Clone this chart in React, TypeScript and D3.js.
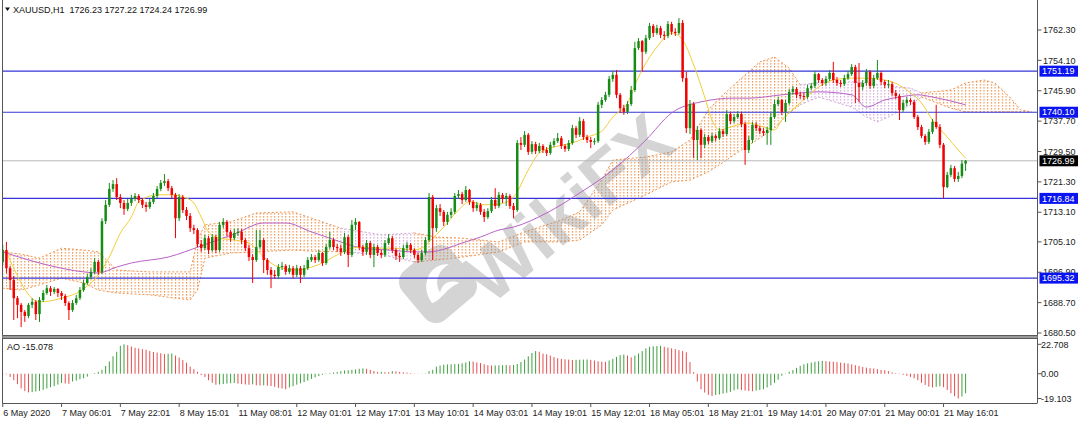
import React from 'react';
import * as d3 from 'd3';

// XAUUSD H1, 6 May 2020 14:00 .. 21 May 2020 22:00 (one value per bar)
const firstOpen = 1699.7;
const closes = [
  1702.9, 1698.0, 1694.8, 1689.9, 1688.1, 1686.2, 1685.1, 1688.1, 1688.9, 1685.6,
  1689.4, 1691.3, 1692.6, 1691.6, 1692.4, 1691.3, 1690.5, 1688.6, 1686.7, 1688.6,
  1689.9, 1692.1, 1694.0, 1695.6, 1697.0, 1699.7, 1697.0, 1710.7, 1715.1, 1719.4,
  1720.7, 1717.2, 1715.6, 1714.0, 1715.6, 1716.7, 1717.5, 1716.4, 1715.1, 1714.5,
  1715.9, 1717.5, 1719.4, 1721.0, 1721.5, 1719.6, 1717.8, 1711.5, 1717.2, 1713.7,
  1712.1, 1708.8, 1708.3, 1704.5, 1703.4, 1706.1, 1702.9, 1706.4, 1702.9, 1709.7,
  1710.5, 1707.8, 1706.1, 1707.5, 1707.8, 1705.6, 1703.4, 1701.0, 1700.2, 1703.7,
  1705.6, 1700.2, 1697.5, 1696.2, 1695.9, 1698.3, 1698.6, 1697.0, 1698.0, 1696.2,
  1698.0, 1696.2, 1698.0, 1700.2, 1701.0, 1700.2, 1702.1, 1699.4, 1703.7, 1705.6,
  1703.7, 1703.4, 1702.4, 1706.4, 1701.6, 1709.7, 1710.5, 1703.7, 1702.4, 1704.8,
  1701.6, 1703.7, 1702.1, 1701.6, 1704.8, 1706.1, 1702.9, 1701.3, 1701.0, 1703.4,
  1704.3, 1702.9, 1701.6, 1700.2, 1702.1, 1705.6, 1717.2, 1708.8, 1714.2, 1713.2,
  1710.5, 1712.4, 1713.2, 1717.5, 1718.0, 1716.4, 1719.1, 1715.9, 1714.2, 1715.1,
  1713.2, 1711.8, 1713.4, 1716.4, 1714.8, 1717.8, 1716.7, 1717.5, 1714.8, 1713.7,
  1731.8, 1731.3, 1734.0, 1729.4, 1731.5, 1729.6, 1731.0, 1729.9, 1729.1, 1731.3,
  1732.3, 1733.1, 1731.0, 1730.2, 1731.8, 1735.8, 1734.0, 1737.7, 1733.4, 1732.6,
  1732.1, 1732.3, 1742.1, 1743.4, 1744.8, 1749.1, 1750.2, 1744.8, 1741.2, 1740.2,
  1742.3, 1746.1, 1757.4, 1759.3, 1756.4, 1760.1, 1763.4, 1761.5, 1762.8, 1761.0,
  1760.7, 1763.9, 1761.8, 1761.5, 1764.2, 1749.3, 1735.8, 1742.3, 1732.6, 1735.3,
  1731.3, 1733.4, 1732.3, 1733.7, 1733.1, 1735.0, 1734.2, 1739.6, 1737.7, 1738.8,
  1739.6, 1736.9, 1729.9, 1732.6, 1736.7, 1735.8, 1735.0, 1734.5, 1735.3, 1738.8,
  1742.3, 1743.4, 1740.2, 1742.6, 1745.6, 1746.4, 1744.8, 1744.5, 1744.2, 1746.6,
  1747.2, 1750.4, 1748.8, 1748.0, 1749.1, 1750.7, 1748.8, 1748.0, 1747.7, 1749.3,
  1750.4, 1752.3, 1748.0, 1746.9, 1748.0, 1751.0, 1747.2, 1749.3, 1750.7, 1748.3,
  1747.5, 1747.7, 1745.3, 1744.5, 1740.7, 1742.6, 1743.4, 1742.9, 1738.8, 1736.1,
  1733.7, 1732.1, 1734.8, 1737.5, 1736.1, 1731.3, 1719.9, 1723.2, 1725.0, 1722.1,
  1722.9, 1726.23, 1726.99,
];
const highs = [
  1704.3, 1705.1, 1698.6, 1695.9, 1690.5, 1688.6, 1686.7, 1688.6, 1689.9, 1689.4,
  1690.2, 1692.1, 1693.5, 1693.2, 1692.9, 1692.6, 1691.8, 1691.0, 1689.1, 1689.4,
  1690.8, 1692.9, 1694.8, 1696.4, 1698.0, 1700.7, 1700.2, 1711.5, 1716.4, 1721.0,
  1721.8, 1722.3, 1718.0, 1716.4, 1716.7, 1717.8, 1718.3, 1718.0, 1716.9, 1715.9,
  1716.7, 1718.3, 1720.2, 1721.8, 1723.4, 1722.1, 1720.2, 1718.3, 1718.0, 1717.8,
  1714.5, 1712.9, 1709.7, 1708.8, 1705.6, 1707.0, 1706.7, 1707.2, 1707.0, 1710.5,
  1711.5, 1711.0, 1708.3, 1708.6, 1708.8, 1708.6, 1706.1, 1704.3, 1701.8, 1708.3,
  1708.3, 1706.1, 1700.7, 1698.3, 1697.5, 1699.1, 1699.7, 1699.1, 1698.9, 1698.6,
  1698.9, 1698.6, 1698.9, 1701.0, 1701.8, 1701.6, 1702.9, 1702.4, 1704.5, 1707.8,
  1706.1, 1704.5, 1704.3, 1707.5, 1707.0, 1711.0, 1711.5, 1710.7, 1704.3, 1705.6,
  1705.3, 1704.5, 1704.3, 1702.9, 1705.6, 1707.2, 1706.7, 1703.4, 1702.1, 1704.3,
  1705.1, 1704.8, 1703.4, 1702.1, 1702.9, 1706.4, 1718.3, 1717.8, 1715.1, 1715.3,
  1713.7, 1713.2, 1714.2, 1718.3, 1719.1, 1718.6, 1720.2, 1719.4, 1716.4, 1715.9,
  1715.6, 1714.0, 1714.2, 1717.2, 1719.6, 1718.6, 1718.3, 1718.3, 1718.0, 1715.6,
  1732.6, 1733.4, 1735.0, 1734.5, 1732.3, 1732.1, 1731.8, 1731.5, 1730.7, 1732.1,
  1733.1, 1734.5, 1733.7, 1731.5, 1732.6, 1736.7, 1736.4, 1738.8, 1738.3, 1734.0,
  1733.4, 1733.1, 1742.9, 1744.2, 1745.6, 1749.9, 1751.2, 1751.5, 1745.3, 1742.1,
  1743.1, 1747.2, 1759.1, 1760.1, 1759.6, 1761.0, 1764.2, 1763.9, 1763.7, 1763.4,
  1762.0, 1764.7, 1764.5, 1762.8, 1765.5, 1765.0, 1751.0, 1743.4, 1742.9, 1736.4,
  1735.8, 1734.2, 1734.0, 1734.5, 1734.2, 1735.8, 1735.6, 1740.7, 1740.2, 1739.6,
  1740.4, 1740.2, 1737.5, 1733.7, 1737.5, 1737.5, 1736.4, 1735.8, 1736.1, 1739.9,
  1743.4, 1744.2, 1743.7, 1743.4, 1746.4, 1747.2, 1746.9, 1745.6, 1745.3, 1747.5,
  1748.0, 1751.2, 1750.7, 1749.3, 1749.9, 1751.5, 1753.7, 1749.6, 1748.8, 1750.2,
  1751.2, 1753.1, 1752.9, 1753.4, 1748.8, 1751.8, 1751.5, 1750.2, 1754.2, 1751.2,
  1748.8, 1748.8, 1748.3, 1746.1, 1745.0, 1743.4, 1744.2, 1743.9, 1743.4, 1739.4,
  1736.7, 1734.2, 1735.6, 1738.3, 1742.1, 1736.9, 1731.8, 1724.0, 1725.9, 1725.6,
  1724.0, 1727.2, 1727.22,
];
const lows = [
  1698.9, 1696.7, 1692.1, 1684.0, 1684.5, 1682.1, 1683.5, 1684.5, 1687.2, 1684.0,
  1683.5, 1688.9, 1690.8, 1690.5, 1691.0, 1690.2, 1689.4, 1687.8, 1684.0, 1686.2,
  1688.1, 1689.4, 1691.6, 1693.5, 1695.1, 1696.4, 1696.2, 1696.4, 1709.9, 1714.5,
  1718.6, 1716.4, 1714.2, 1712.4, 1713.4, 1714.8, 1716.1, 1715.6, 1714.2, 1713.2,
  1714.0, 1715.3, 1716.9, 1718.8, 1720.2, 1718.8, 1716.7, 1706.1, 1710.7, 1712.9,
  1711.0, 1707.8, 1707.2, 1703.7, 1702.4, 1702.9, 1701.8, 1702.4, 1702.1, 1702.4,
  1708.8, 1706.7, 1705.1, 1705.6, 1706.7, 1704.5, 1702.6, 1699.9, 1694.0, 1699.7,
  1703.2, 1696.7, 1696.2, 1692.6, 1695.1, 1695.1, 1697.5, 1696.2, 1696.4, 1695.3,
  1695.6, 1694.0, 1695.6, 1697.5, 1699.7, 1699.4, 1699.7, 1698.6, 1698.9, 1703.2,
  1702.9, 1702.4, 1701.3, 1701.8, 1698.3, 1701.0, 1708.3, 1702.9, 1701.3, 1701.6,
  1700.7, 1698.3, 1701.3, 1700.7, 1701.0, 1704.3, 1702.1, 1700.2, 1699.7, 1700.5,
  1702.6, 1702.1, 1700.7, 1699.4, 1699.7, 1701.6, 1705.1, 1700.2, 1707.8, 1712.1,
  1709.4, 1709.7, 1711.5, 1712.6, 1716.7, 1715.3, 1715.9, 1715.1, 1713.2, 1713.4,
  1712.4, 1710.5, 1711.3, 1712.9, 1714.0, 1714.2, 1715.6, 1714.8, 1714.0, 1711.5,
  1713.2, 1729.9, 1730.7, 1728.6, 1728.8, 1728.8, 1729.1, 1729.1, 1728.3, 1728.6,
  1730.7, 1731.8, 1730.2, 1729.4, 1729.6, 1731.3, 1733.1, 1733.4, 1732.6, 1731.8,
  1730.4, 1731.3, 1731.8, 1741.2, 1742.9, 1744.2, 1748.3, 1743.9, 1739.9, 1739.4,
  1739.6, 1741.8, 1745.6, 1756.9, 1751.0, 1755.8, 1759.6, 1760.4, 1761.0, 1760.1,
  1759.6, 1760.1, 1761.0, 1760.7, 1761.0, 1748.3, 1734.5, 1734.2, 1727.7, 1727.2,
  1727.7, 1730.4, 1731.5, 1731.8, 1732.3, 1732.6, 1733.4, 1733.7, 1736.9, 1737.2,
  1738.3, 1736.1, 1725.9, 1729.1, 1731.8, 1735.0, 1734.2, 1733.7, 1731.3, 1731.3,
  1738.3, 1741.8, 1739.4, 1737.5, 1742.1, 1744.8, 1743.9, 1743.7, 1743.4, 1743.7,
  1746.1, 1746.6, 1748.0, 1747.2, 1747.2, 1748.5, 1748.0, 1747.2, 1746.9, 1747.2,
  1748.8, 1749.9, 1742.6, 1742.9, 1746.1, 1747.2, 1746.4, 1746.6, 1748.8, 1747.5,
  1746.6, 1746.6, 1744.5, 1743.7, 1738.0, 1740.2, 1741.8, 1742.1, 1738.3, 1735.3,
  1733.1, 1731.3, 1731.5, 1734.2, 1735.6, 1730.4, 1716.9, 1719.6, 1722.6, 1721.3,
  1721.3, 1722.3, 1724.24,
];

// Awesome Oscillator, one value per bar
const aoValues = [
  0.6, -0.4, -2.5, -5.0, -8.0, -11.4, -13.4, -14.4, -14.2, -13.7,
  -13.2, -12.4, -11.4, -10.4, -9.6, -8.4, -7.1, -7.5, -7.8, -6.0,
  -5.3, -4.3, -3.5, -2.2, -0.1, 0.5, 1.5, 3.0, 6.0, 9.5,
  13.5, 17.0, 21.5, 22.708, 22.0, 21.0, 20.0, 19.5, 19.0, 18.5,
  17.5, 16.8, 16.3, 15.8, 15.2, 15.4, 15.6, 14.0, 12.5, 10.5,
  8.5, 5.5, 3.5, 1.5, -1.0, -2.5, -5.0, -7.0, -8.5, -8.3,
  -8.0, -7.6, -7.3, -7.1, -7.6, -8.0, -8.3, -8.5, -8.2, -8.9,
  -9.1, -9.0, -9.2, -9.5, -10.1, -10.9, -11.4, -12.0, -10.6, -9.6,
  -8.4, -7.4, -6.4, -5.3, -4.0, -2.8, -1.8, -0.8, 0.2, 0.5,
  1.0, 1.3, 2.0, 2.5, 2.7, 3.0, 3.3, 3.8, 4.1, 3.8,
  3.0, 2.0, 1.3, 1.5, 1.2, 1.1, 2.0, 1.8, 1.4, 1.1,
  0.8, 0.5, 0.2, 0.1, 0.15, 0.3, 2.0, 3.0, 5.5, 6.3,
  7.0, 7.2, 7.3, 7.4, 7.6, 8.0, 8.8, 9.6, 9.4, 8.8,
  8.2, 7.3, 6.6, 6.3, 6.4, 6.5, 6.6, 6.7, 6.5, 6.8,
  7.5, 9.0, 11.0, 13.5, 16.0, 17.5, 17.0, 15.5, 15.0, 14.0,
  12.8, 12.0, 11.4, 11.1, 10.9, 10.6, 10.7, 10.8, 10.9, 11.0,
  10.7, 10.2, 9.6, 9.3, 9.2, 10.2, 11.5, 13.0, 14.3, 14.8,
  14.0, 12.6, 14.0, 15.6, 17.5, 19.5, 20.8, 21.2, 21.4, 21.5,
  20.8, 20.2, 19.6, 19.0, 18.2, 17.5, 16.5, 9.0, 1.2, -6.0,
  -12.0, -14.5, -16.3, -17.2, -16.4, -16.0, -15.3, -14.7, -14.0, -12.8,
  -12.0, -12.6, -13.0, -13.3, -13.5, -13.0, -12.6, -12.0, -10.6, -8.9,
  -7.0, -4.6, -1.5, -0.2, 1.5, 2.8, 4.5, 6.0, 7.3, 8.0,
  8.6, 9.2, 9.6, 9.9, 9.7, 9.4, 9.3, 9.0, 8.6, 8.3,
  7.9, 7.2, 6.6, 6.0, 5.3, 4.7, 4.3, 4.0, 3.6, 3.0,
  2.7, 2.0, 1.0, 0.4, -0.3, -0.8, -1.6, -2.5, -3.5, -5.0,
  -7.0, -8.6, -10.0, -10.6, -10.1, -9.7, -10.4, -12.5, -15.0, -17.3,
  -19.103, -17.6, -15.078,
];

// moving averages (bar index, price)
const fastMaBars = [1, 10, 16, 22, 26, 29, 32, 35, 37, 42, 46, 50, 52, 54, 56, 59, 63, 67, 71, 75, 80, 84, 87, 91, 95, 98, 103, 107, 111, 114, 116, 120, 124, 127, 131, 135, 139, 143, 146, 150, 155, 159, 163, 166, 170, 173, 178, 182, 185, 188, 191, 193, 195, 199, 203, 207, 210, 212, 217, 222, 226, 231, 235, 240, 242, 246, 250, 253, 257, 260, 262];
const fastMaValues = [1702.4, 1688.9, 1689.9, 1692.4, 1696.2, 1701.0, 1707.5, 1711.8, 1715.9, 1717.8, 1717.8, 1716.9, 1715.6, 1711.8, 1707.8, 1706.1, 1705.6, 1704.8, 1701.0, 1698.3, 1697.5, 1698.3, 1699.4, 1701.6, 1703.4, 1703.7, 1703.4, 1703.4, 1702.9, 1703.4, 1705.1, 1709.1, 1713.7, 1715.9, 1715.1, 1715.3, 1717.2, 1724.5, 1729.1, 1730.7, 1731.8, 1733.4, 1735.0, 1738.8, 1742.6, 1749.6, 1757.7, 1761.5, 1759.6, 1752.9, 1744.2, 1738.0, 1735.3, 1736.4, 1737.2, 1736.1, 1735.3, 1738.0, 1742.6, 1746.9, 1748.8, 1749.3, 1749.3, 1748.8, 1748.3, 1746.1, 1742.6, 1738.0, 1733.4, 1729.9, 1727.7];
const slowMaBars = [0, 12, 22, 26, 31, 35, 45, 54, 63, 71, 77, 84, 89, 98, 105, 112, 116, 121, 125, 130, 135, 139, 148, 157, 166, 175, 182, 190, 199, 203, 212, 222, 231, 235, 240, 244, 249, 253, 262];
const slowMaValues = [1702.4, 1698.9, 1697.0, 1696.7, 1698.3, 1699.4, 1701.0, 1704.0, 1707.2, 1710.2, 1710.2, 1707.8, 1706.1, 1703.4, 1702.9, 1702.4, 1702.4, 1703.4, 1704.8, 1706.4, 1708.3, 1709.1, 1712.9, 1718.3, 1724.5, 1732.6, 1739.9, 1742.9, 1743.9, 1743.9, 1744.8, 1745.6, 1744.8, 1741.5, 1743.4, 1744.2, 1744.8, 1744.2, 1742.1];

// Ichimoku cloud edges (bar index, upper, lower, up = sandy / dn = thistle)
const cloudBars = [0, 5, 10, 16, 22, 26, 31, 40, 51, 53, 55, 62, 69, 79, 84, 92, 103, 112, 118, 125, 135, 142, 152, 157, 163, 166, 175, 182, 187, 192, 195, 201, 206, 210, 214, 217, 222, 231, 235, 238, 241, 247, 250, 258, 262, 267, 270, 274, 277, 280];
const cloudUpper = [1702.4, 1701.8, 1700.7, 1703.4, 1702.9, 1702.4, 1697.5, 1697.0, 1697.0, 1705.6, 1709.7, 1710.5, 1712.9, 1713.2, 1711.5, 1708.8, 1707.0, 1707.5, 1706.4, 1706.1, 1705.1, 1707.8, 1711.0, 1713.2, 1721.8, 1727.2, 1728.0, 1729.4, 1732.6, 1740.7, 1743.9, 1749.3, 1753.7, 1755.0, 1752.0, 1747.5, 1748.0, 1748.3, 1748.0, 1747.5, 1747.2, 1746.6, 1745.3, 1746.1, 1748.0, 1748.8, 1748.0, 1744.2, 1740.7, 1740.2];
const cloudLower = [1692.6, 1692.1, 1693.5, 1695.3, 1694.0, 1692.1, 1691.3, 1690.8, 1689.4, 1692.1, 1700.7, 1702.1, 1702.4, 1702.9, 1702.6, 1702.4, 1701.6, 1699.7, 1700.2, 1701.0, 1702.4, 1705.1, 1705.1, 1705.6, 1709.7, 1713.7, 1717.8, 1721.3, 1721.8, 1724.0, 1725.9, 1729.9, 1733.1, 1735.8, 1739.9, 1742.1, 1744.2, 1741.5, 1738.8, 1737.5, 1738.8, 1742.1, 1744.2, 1741.2, 1740.2, 1740.2, 1740.2, 1740.2, 1740.2, 1740.2];
const cloudKind = ['up', 'up', 'up', 'up', 'up', 'up', 'up', 'up', 'up', 'up', 'up', 'up', 'up', 'up', 'up', 'dn', 'dn', 'up', 'up', 'up', 'up', 'up', 'up', 'up', 'up', 'up', 'up', 'up', 'up', 'up', 'up', 'up', 'up', 'up', 'up', 'dn', 'dn', 'dn', 'dn', 'dn', 'dn', 'dn', 'up', 'up', 'up', 'up', 'up', 'up', 'up', 'up'];

const priceTicks = [1762.3, 1754.1, 1745.9, 1737.7, 1729.5, 1721.3, 1713.1, 1705.1, 1696.9, 1688.7, 1680.5];
const levels = [1751.19, 1740.1, 1716.84, 1695.32];
const bidPrice = 1726.99;
const aoTicks = [22.708, 0, -19.103];
const timeLabels = ['6 May 2020', '7 May 06:01', '7 May 22:01', '8 May 15:01', '11 May 08:01', '12 May 01:01', '12 May 17:01', '13 May 10:01', '14 May 03:01', '14 May 19:01', '15 May 12:01', '18 May 05:01', '18 May 21:01', '19 May 14:01', '20 May 07:01', '21 May 00:01', '21 May 16:01'];
const labelEvery = 16;

const FONT = "'Liberation Sans', Arial, sans-serif";
const BULL = '#168c16';
const BEAR = '#f00000';
const SANDY = '#ee9450';
const THISTLE = '#cfa6d6';

export default function App() {
  const W = 1080;
  const H = 422;
  const plotL = 2.5;
  const plotR = 1037.5;
  const priceBottom = 335;
  const aoTop = 338.5;
  const aoBottom = 403;

  const x = d3.scaleLinear().domain([0, closes.length - 1]).range([2.75, 2.75 + 3.675 * (closes.length - 1)]);
  const y = d3.scaleLinear().domain([1680.5, 1762.3]).range([333, 30]);
  const yAo = d3.scaleLinear().domain([-19.103, 22.708]).range([398.5, 344.3]);

  const candles = closes.map((c, i) => {
    const o = i === 0 ? firstOpen : closes[i - 1];
    return { i, o, c, h: Math.max(highs[i], o, c), l: Math.min(lows[i], o, c) };
  });

  const fastLine = d3.line<number>().x((b) => x(b)).y((_, k) => y(fastMaValues[k])).curve(d3.curveMonotoneX)(fastMaBars) || '';
  const slowLine = d3.line<number>().x((b) => x(b)).y((_, k) => y(slowMaValues[k])).curve(d3.curveMonotoneX)(slowMaBars) || '';

  type CP = { b: number; up: number; lo: number; kind: string };
  const pts: CP[] = cloudBars.map((b, k) => ({ b, up: cloudUpper[k], lo: cloudLower[k], kind: cloudKind[k] }));
  const segs: { kind: string; pts: CP[] }[] = [];
  pts.forEach((p) => {
    const last = segs[segs.length - 1];
    if (!last || last.kind !== p.kind) {
      if (last) last.pts.push(p);
      segs.push({ kind: p.kind, pts: [p] });
    } else {
      last.pts.push(p);
    }
  });
  const area = d3.area<CP>().x((d) => x(d.b)).y0((d) => y(d.lo)).y1((d) => y(d.up));
  const upperEdge = d3.line<CP>().x((d) => x(d.b)).y((d) => y(d.up));
  const lowerEdge = d3.line<CP>().x((d) => x(d.b)).y((d) => y(d.lo));
  const cloudColor = (k: string) => (k === 'up' ? SANDY : THISTLE);

  return (
    <div style={{ position: 'absolute', left: 0, top: 0, width: W, height: H, background: '#fff' }}>
      <svg width={W} height={H} viewBox={`0 0 ${W} ${H}`} style={{ display: 'block', fontFamily: FONT }}>
        <defs>
          <pattern id="dotUp" patternUnits="userSpaceOnUse" width={3.675} height={3} x={2.25} y={0}>
            <rect x={0} y={0} width={1.1} height={1.6} fill={SANDY} />
          </pattern>
          <pattern id="dotDn" patternUnits="userSpaceOnUse" width={3.675} height={3} x={2.25} y={0}>
            <rect x={0} y={0} width={1.1} height={1.6} fill={THISTLE} />
          </pattern>
          <clipPath id="priceClip">
            <rect x={plotL} y={0} width={plotR - plotL} height={priceBottom} />
          </clipPath>
        </defs>
        <rect x={0} y={0} width={W} height={H} fill="#fff" />

        <g clipPath="url(#priceClip)">
          {/* Ichimoku cloud */}
          {segs.map((s, k) => (
            <g key={k}>
              <path d={area(s.pts) || ''} fill={s.kind === 'up' ? 'url(#dotUp)' : 'url(#dotDn)'} />
              <path d={upperEdge(s.pts) || ''} fill="none" stroke={cloudColor(s.kind)} strokeWidth={1} strokeDasharray="2 2" />
              <path d={lowerEdge(s.pts) || ''} fill="none" stroke={cloudColor(s.kind)} strokeWidth={1} strokeDasharray="2 2" />
            </g>
          ))}

          {/* watermark */}
          <g opacity={0.42}>
            <g transform="translate(438,284) rotate(-40)">
              <rect x={-32} y={-32} width={64} height={64} rx={15} fill="#9a9a9a" />
              <path d="M-17,11 C-15,-13 9,-21 21,-8 C8,-10 -2,-4 -4,8 C4,2 12,4 17,13 C4,8 -6,15 -17,11 Z" fill="#fff" />
            </g>
            <text
              x={0}
              y={0}
              transform="translate(568,208) rotate(-40)"
              textAnchor="middle"
              dominantBaseline="central"
              fontSize={74}
              fontWeight="bold"
              fill="#9a9a9a"
              fontFamily={FONT}
            >
              WikiFX
            </text>
          </g>

          {/* level lines */}
          <line x1={plotL} x2={plotR} y1={y(bidPrice)} y2={y(bidPrice)} stroke="#b8b8b8" strokeWidth={1} />
          {levels.map((v) => (
            <line key={v} x1={plotL} x2={plotR} y1={y(v)} y2={y(v)} stroke="#3434d8" strokeWidth={1.2} />
          ))}

          {/* moving averages */}
          <path d={slowLine} fill="none" stroke="#b862c8" strokeWidth={1} />
          <path d={fastLine} fill="none" stroke="#f2cf3a" strokeWidth={1} />

          {/* candles */}
          {candles.map((d) => {
            const col = d.c >= d.o ? BULL : BEAR;
            const cx = x(d.i);
            const top = y(Math.max(d.o, d.c));
            const bh = Math.max(1, Math.abs(y(d.o) - y(d.c)));
            return (
              <g key={d.i}>
                <line x1={cx} x2={cx} y1={y(d.h)} y2={y(d.l)} stroke={col} strokeWidth={1} />
                <rect x={cx - 1.25} y={top} width={2.5} height={bh} fill={col} />
              </g>
            );
          })}
        </g>

        {/* AO histogram */}
        {aoValues.map((v, i) => {
          const prev = i === 0 ? Infinity : aoValues[i - 1];
          const col = v > prev ? '#2a962a' : '#e63a3a';
          const cx = x(i);
          return <line key={i} x1={cx} x2={cx} y1={yAo(0)} y2={yAo(v)} stroke={col} strokeWidth={1} opacity={0.9} />;
        })}

        {/* frames */}
        <line x1={plotL} x2={plotL} y1={0} y2={aoBottom} stroke="#555" strokeWidth={1} />
        <line x1={plotR} x2={plotR} y1={0} y2={aoBottom} stroke="#555" strokeWidth={1} />
        <rect x={plotL} y={priceBottom} width={plotR - plotL} height={aoTop - priceBottom} fill="#9a9a9a" />
        <line x1={plotL} x2={plotR} y1={priceBottom + 0.5} y2={priceBottom + 0.5} stroke="#5a5a5a" strokeWidth={1} />
        <line x1={plotL} x2={plotR} y1={aoTop} y2={aoTop} stroke="#5a5a5a" strokeWidth={1} />
        <line x1={plotL} x2={plotR} y1={aoBottom + 0.5} y2={aoBottom + 0.5} stroke="#555" strokeWidth={1} />

        {/* header */}
        <path d="M5,7.5 L10,7.5 L7.5,11 Z" fill="#111" />
        <text x={13} y={12.5} fontSize={9} fill="#111" style={{ whiteSpace: 'pre' }}>
          {'XAUUSD,H1  1726.23 1727.22 1724.24 1726.99'}
        </text>
        <text x={7} y={349.5} fontSize={9} fill="#111">AO -15.078</text>

        {/* price axis */}
        {priceTicks.map((v) => (
          <g key={v}>
            <line x1={plotR} x2={plotR + 4} y1={y(v)} y2={y(v)} stroke="#555" />
            <text x={1043} y={y(v) + 3.2} fontSize={9} fill="#222">{v.toFixed(2)}</text>
          </g>
        ))}
        {levels.map((v) => (
          <g key={v}>
            <rect x={1039.5} y={y(v) - 5.5} width={38.5} height={11} fill="#0a14f0" />
            <text x={1042} y={y(v) + 3.2} fontSize={9} fill="#fff">{v.toFixed(2)}</text>
          </g>
        ))}
        <rect x={1039.5} y={y(bidPrice) - 5.5} width={38.5} height={11} fill="#000" />
        <text x={1042} y={y(bidPrice) + 3.2} fontSize={9} fill="#fff">{bidPrice.toFixed(2)}</text>

        {/* AO axis */}
        {aoTicks.map((v) => (
          <g key={v}>
            <line x1={plotR} x2={plotR + 4} y1={yAo(v)} y2={yAo(v)} stroke="#555" />
            <text x={1041} y={yAo(v) + 3.2} fontSize={9} fill="#222">{v === 0 ? '0.00' : v.toFixed(3)}</text>
          </g>
        ))}

        {/* time axis */}
        {timeLabels.map((t, k) => {
          const tx = x(k * labelEvery);
          return (
            <g key={t}>
              <line x1={tx} x2={tx} y1={aoBottom} y2={aoBottom + 4} stroke="#555" />
              <text x={tx + 0.5} y={415.5} fontSize={9} fill="#222">{t}</text>
            </g>
          );
        })}
      </svg>
    </div>
  );
}
